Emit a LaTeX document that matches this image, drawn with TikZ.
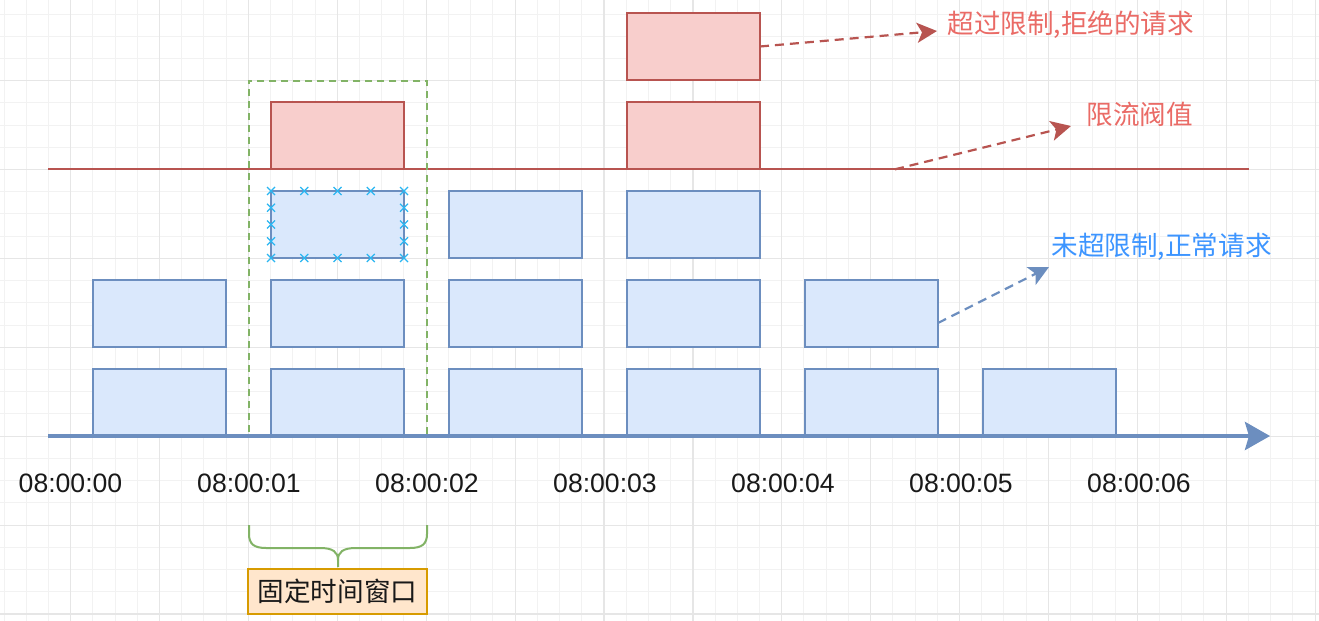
\documentclass[tikz,border=0pt]{standalone}
\usepackage{fontspec}
\setmainfont{Liberation Sans}
\newfontfamily\cjk{Noto Sans CJK SC}
\usetikzlibrary{arrows.meta}
\definecolor{bluefill}{HTML}{DAE8FC}
\definecolor{blueline}{HTML}{6C8EBF}
\definecolor{redfill}{HTML}{F8CECC}
\definecolor{redline}{HTML}{B85450}
\definecolor{redtext}{HTML}{EA6B66}
\definecolor{bluetext}{HTML}{3D95FF}
\definecolor{greenline}{HTML}{82B366}
\definecolor{orangefill}{HTML}{FFE6CC}
\definecolor{orangeline}{HTML}{D79B00}
\definecolor{minorgrid}{HTML}{F2F2F2}
\definecolor{majorgrid}{HTML}{E6E6E6}
\definecolor{handle}{HTML}{29B6F2}
\tikzset{
  reqbox/.style={draw=blueline, fill=bluefill, line width=1.1pt, minimum width=66.5pt, minimum height=33.5pt, inner sep=0pt, outer sep=0pt},
  rejbox/.style={draw=redline, fill=redfill, line width=1.1pt, minimum width=66.5pt, minimum height=33.5pt, inner sep=0pt, outer sep=0pt},
  timelabel/.style={font=\fontsize{13.3}{16}\selectfont, text=black!90, inner sep=0pt},
  notetext/.style={font=\cjk\fontsize{13.3}{16}\selectfont, inner sep=0pt, anchor=west},
  dasharrow/.style={line width=1.1pt, dash pattern=on 4.5pt off 3pt, -{Stealth[length=10pt,width=10pt,inset=2.5pt]}},
  handlemark/.style={handle, line width=0.6pt},
}
\begin{document}
\begin{tikzpicture}[x=0.5pt,y=-0.5pt]
\useasboundingbox (0,0) rectangle (1319,621);
\fill[white] (0,0) rectangle (1319,621);
% grid
\begin{scope}
\clip (0,0) rectangle (1319,621);
\foreach \i in {0,...,59} {
  \pgfmathtruncatemacro{\m}{mod(\i+1,4)}
  \ifnum\m=0\else \draw[minorgrid, line width=0.5pt] ({4+22.222*\i},0) -- ++(0,621);\fi
}
\foreach \j in {0,...,27} {
  \pgfmathtruncatemacro{\m}{mod(\j+1,4)}
  \ifnum\m=0\else \draw[minorgrid, line width=0.5pt] (0,{14+22.222*\j}) -- ++(1319,0);\fi
}
\foreach \i in {0,...,14} \draw[majorgrid, line width=0.6pt] ({70.67+88.89*\i},0) -- ++(0,621);
\foreach \j in {0,...,6} \draw[majorgrid, line width=0.6pt] (0,{80.67+88.89*\j}) -- ++(1319,0);
\end{scope}

% threshold line
\coordinate (thL) at (48,169.3);
\coordinate (thR) at (1249,169.3);
\coordinate (thA) at (895,169.3);
\draw[redline, line width=1.1pt] (thL) -- (thR);

% bottom row
\node[reqbox] (b00) at (159.5,402.5) {};
\node[reqbox] (b10) at (337.5,402.5) {};
\node[reqbox] (b20) at (515.5,402.5) {};
\node[reqbox] (b30) at (693.5,402.5) {};
\node[reqbox] (b40) at (871.5,402.5) {};
\node[reqbox] (b50) at (1049.5,402.5) {};
% middle row
\node[reqbox] (b01) at (159.5,313.5) {};
\node[reqbox] (b11) at (337.5,313.5) {};
\node[reqbox] (b21) at (515.5,313.5) {};
\node[reqbox] (b31) at (693.5,313.5) {};
\node[reqbox] (b41) at (871.5,313.5) {};
% top blue row
\node[reqbox] (b12) at (337.5,224.5) {};
\node[reqbox] (b22) at (515.5,224.5) {};
\node[reqbox] (b32) at (693.5,224.5) {};
% rejected
\node[rejbox] (r13) at (337.5,135.5) {};
\node[rejbox] (r33) at (693.5,135.5) {};
\node[rejbox] (r34) at (693.5,46.5) {};

% selection handles on b12
\foreach \x in {271,304.25,337.5,370.75,404} {
  \foreach \y in {191,258} {
    \draw[handlemark] (\x-4,\y-4) -- (\x+4,\y+4) (\x-4,\y+4) -- (\x+4,\y-4);
  }
}
\foreach \x in {271,404} {
  \foreach \y in {207.75,224.5,241.25} {
    \draw[handlemark] (\x-4,\y-4) -- (\x+4,\y+4) (\x-4,\y+4) -- (\x+4,\y-4);
  }
}

% fixed window (dashed)
\node[draw=greenline, line width=1pt, dash pattern=on 3.5pt off 2.5pt, minimum width=89pt, minimum height=177.7pt, inner sep=0pt] (win) at (338,258.35) {};

% time axis
\coordinate (axL) at (48,436);
\coordinate (axR) at (1270,436);
\draw[blueline, line width=2pt, -{Stealth[length=12.5pt,width=14pt,inset=2pt]}] (axL) -- (axR);

% time labels
\node[timelabel] (t0) at (70.5,483) {08:00:00};
\node[timelabel] (t1) at (249,483) {08:00:01};
\node[timelabel] (t2) at (427,483) {08:00:02};
\node[timelabel] (t3) at (605,483) {08:00:03};
\node[timelabel] (t4) at (783,483) {08:00:04};
\node[timelabel] (t5) at (961,483) {08:00:05};
\node[timelabel] (t6) at (1139,483) {08:00:06};

% brace
\coordinate (brL) at (249,525);
\coordinate (brR) at (427,525);
\coordinate (brM) at (338,567);
\draw[greenline, line width=1pt]
  (brL) -- (249,534) .. controls (249,544) and (254,548) .. (266,548)
  -- (320,548) .. controls (333,548) and (338,552) .. (338,560) -- (brM);
\draw[greenline, line width=1pt]
  (brR) -- (427,534) .. controls (427,544) and (422,548) .. (410,548)
  -- (356,548) .. controls (343,548) and (338,552) .. (338,560);

% window label
\node[draw=orangeline, fill=orangefill, line width=1pt, minimum width=89.5pt, minimum height=22.5pt, inner sep=0pt, font=\cjk\fontsize{13.3}{16}\selectfont, text=black!90] (wl) at (337.5,591.5) {固定时间窗口};

% notes
\node[notetext, text=redtext] (n1) at (947,25) {超过限制,拒绝的请求};
\node[notetext, text=redtext] (n2) at (1086,114) {限流阀值};
\node[notetext, text=bluetext] (n3) at (1051,247) {未超限制,正常请求};

\coordinate (a1) at (937,31);
\coordinate (a2) at (1071,126);
\coordinate (a3) at (1049,267);
\coordinate (s3) at (938,323);
\draw[dasharrow, redline] (r34.east) -- (a1);
\draw[dasharrow, redline] (thA) -- (a2);
\draw[dasharrow, blueline] (s3) -- (a3);
\end{tikzpicture}
\end{document}
